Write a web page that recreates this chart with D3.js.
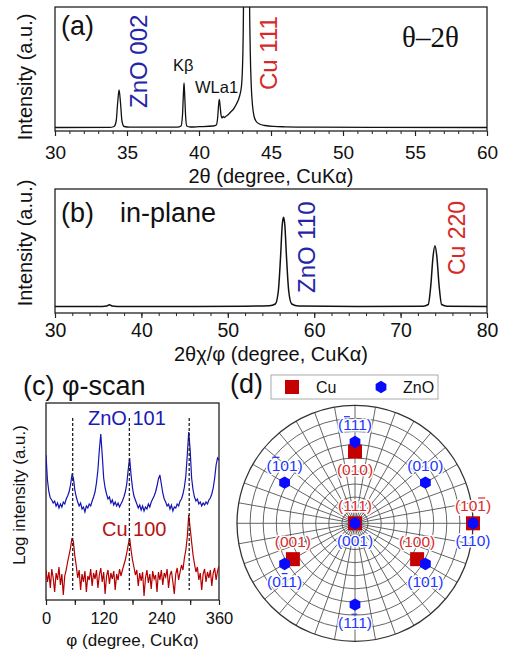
<!DOCTYPE html>
<html>
<head>
<meta charset="utf-8">
<script src="https://cdn.jsdelivr.net/npm/d3@7"></script>
<style>
  body { margin: 0; background: #fff; }
  svg { display: block; }
  text { font-family: "Liberation Sans", Arial, sans-serif; }
</style>
</head>
<body>
<script>
/* ---------------------------- */
/* DATA                         */
/* ---------------------------- */

// (a) theta-2theta scan
const aTheta = [30, 33.8, 34.1, 34.25, 34.35, 34.45, 34.55, 34.65, 34.8, 35.2,
                38.5, 38.75, 38.85, 38.92, 38.96, 39.0, 39.07, 39.15, 39.4, 40,
                41, 41.2, 41.3, 41.36, 41.41, 41.46, 41.53, 41.6, 41.68, 41.75,
                41.85, 42.0, 42.2, 42.4, 42.6, 42.8, 42.95, 43.05, 43.1, 43.3,
                43.5, 43.56, 43.63, 43.72, 43.82, 43.95, 44.2, 44.6, 45.2, 46,
                48, 52, 60];
const aInt = [3.5, 3.6, 4.5, 10, 28, 41, 28, 10, 4.5, 3.8,
              3.9, 5, 15, 38, 48, 38, 15, 5, 4, 4.3,
              5, 6, 14, 26, 31.7, 26, 16, 13, 14.5, 13.5,
              14.5, 16, 19, 22, 27, 34, 45, 80, 150, 3000,
              150, 80, 45, 25, 15, 10, 7, 5.5, 4.6, 4.2,
              3.8, 3.6, 3.5];
const aTicks = [30, 35, 40, 45, 50, 55, 60];

// (b) in-plane scan
const bTheta = [30, 35.5, 36.0, 36.3, 36.6, 37.2, 45, 52, 54.8, 55.5,
                55.85, 56.1, 56.3, 56.45, 56.6, 56.8, 57.05, 57.4, 58.2, 65,
                72.6, 73.2, 73.5, 73.75, 73.98, 74.2, 74.45, 74.75, 75.4, 80];
const bInt = [6.5, 6.5, 6.9, 8.2, 6.9, 6.5, 6.6, 6.8, 7.2, 9,
              22, 55, 88, 95.7, 88, 55, 22, 9, 7, 6.6,
              6.8, 8.5, 28, 56, 67.3, 56, 28, 8.5, 6.8, 6.5];
const bTicks = [30, 40, 50, 60, 70, 80];

// (c) phi scans, sampled every 3 degrees
const phiC = d3.range(0, 361, 3);
const znoScan = [145, 120, 108, 102, 100, 97, 99, 94, 97, 92,
                 96, 93, 98, 96, 101, 104, 108, 115, 125, 122,
                 110, 103, 98, 94, 97, 91, 93, 88, 94, 92,
                 96, 94, 99, 103, 108, 117, 130, 150, 166, 145,
                 122, 112, 106, 101, 103, 97, 100, 95, 98, 94,
                 97, 93, 96, 99, 103, 108, 116, 130, 142, 125,
                 112, 104, 100, 96, 92, 95, 90, 94, 89, 93,
                 91, 96, 93, 98, 101, 104, 108, 114, 121, 125,
                 116, 107, 101, 98, 94, 96, 91, 95, 89, 93,
                 92, 96, 94, 99, 101, 106, 113, 124, 145, 168,
                 150, 122, 110, 103, 99, 101, 96, 98, 94, 97,
                 95, 98, 96, 100, 102, 106, 112, 122, 135, 142,
                 140];
const cuScan = [30, 18, 28, 12, 31, 22, 8, 27, 20, 33,
                15, 26, 5, 24, 30, 38, 45, 52, 62, 58,
                44, 34, 22, 30, 10, 26, 18, 29, 8, 24,
                20, 31, 14, 27, 21, 30, 12, 25, 32, 18,
                28, 6, 24, 30, 16, 27, 21, 29, 10, 26,
                20, 31, 24, 30, 35, 40, 47, 55, 62, 50,
                40, 33, 25, 30, 14, 27, 19, 28, 4, 22,
                30, 17, 26, 11, 29, 21, 25, 8, 28, 20,
                30, 15, 27, 23, 31, 12, 25, 29, 18, 6,
                26, 32, 20, 28, 35, 30, 42, 50, 63, 85,
                72, 58, 45, 36, 28, 33, 20, 27, 10, 26,
                31, 18, 28, 22, 30, 14, 27, 32, 20, 29,
                34];
const cTicks = [0, 60, 120, 180, 240, 300, 360];
const cLabels = [0, 120, 240, 360];
const dashPhi = [55.5, 173.5, 298];

// (d) pole figure: chi (tilt), phi (azimuth)
const cuPoles = ["(111)", "(010)", "(001)", "(100)", "(10-1)"];
const cuChi = [0, 54.7, 54.7, 54.7, 90];
const cuPhi = [0, 90, 210, 330, 0];
const znoPoles = ["(001)", "(-111)", "(010)", "(-101)", "(110)", "(0-11)", "(101)", "(1-11)"];
const znoChi = [0, 62, 62, 62, 90, 62, 62, 62];
const znoPhi = [0, 90, 30, 150, 0, 210, 330, 270];

/* ---------------------------- */
/* CANVAS                       */
/* ---------------------------- */

const W = 505, H = 655;
const ink = "#222";
const navy = "#2424a8", red = "#d42a2a";

const svg = d3.select("body").append("svg")
    .attr("width", W)
    .attr("height", H);

const defs = svg.append("defs");

// frame + bottom axis with major and minor ticks
function framedPanel(id, x, y, major, minor, labels, fs, pad) {
    const [x0, x1] = x.range(), [y0, y1] = y.range();
    defs.append("clipPath").attr("id", id)
        .append("rect").attr("x", x0).attr("y", y1).attr("width", x1 - x0).attr("height", y0 - y1);

    const g = svg.append("g");
    g.append("g")
        .attr("transform", `translate(0,${y0})`)
        .call(d3.axisBottom(x).tickValues(minor).tickSize(3).tickFormat(""))
        .call(a => a.select(".domain").remove())
        .call(a => a.selectAll("line").attr("stroke", ink).attr("stroke-width", 1));
    g.append("g")
        .attr("transform", `translate(0,${y0})`)
        .call(d3.axisBottom(x).tickValues(major).tickSize(5).tickPadding(pad)
              .tickFormat(d => labels.includes(d) ? d : ""))
        .call(a => a.select(".domain").remove())
        .call(a => a.selectAll("line").attr("stroke", ink).attr("stroke-width", 1.2))
        .call(a => a.selectAll("text")
              .attr("fill", "#111")
              .style("font-size", fs + "px")
              .style("font-family", '"Liberation Sans", Arial, sans-serif'));
    g.append("rect")
        .attr("x", x0).attr("y", y1)
        .attr("width", x1 - x0).attr("height", y0 - y1)
        .attr("fill", "none").attr("stroke", ink).attr("stroke-width", 1.3);
    return g;
}

function addText(x, y, str, size, color, opts = {}) {
    const t = svg.append("text")
        .attr("x", x).attr("y", y)
        .attr("fill", color || "#111")
        .style("font-size", size + "px")
        .text(str);
    if (opts.anchor) t.attr("text-anchor", opts.anchor);
    if (opts.rotate) t.attr("transform", `rotate(-90,${x},${y})`);
    if (opts.serif) t.style("font-family", '"Liberation Serif", "Times New Roman", serif');
    return t;
}

/* ---------------------------- */
/* (a) theta-2theta             */
/* ---------------------------- */

const xA = d3.scaleLinear().domain([30, 60]).range([55, 487]);
const yA = d3.scaleLinear().domain([0, 124]).range([131, 7]);

framedPanel("clipA", xA, yA, aTicks, d3.range(30, 61, 1), aTicks, 19, 9.5);

svg.append("path")
    .datum(aTheta.map((t, i) => [t, aInt[i]]))
    .attr("clip-path", "url(#clipA)")
    .attr("fill", "none")
    .attr("stroke", "#111")
    .attr("stroke-width", 1.3)
    .attr("d", d3.line().x(d => xA(d[0])).y(d => yA(d[1])).curve(d3.curveMonotoneX));

addText(61, 35, "(a)", 27);
addText(402, 47, "θ–2θ", 29, "#111", {serif: true});
addText(147, 108, "ZnO 002", 24, navy, {rotate: true});
addText(277, 90, "Cu 111", 24, red, {rotate: true});
addText(173, 71, "Kβ", 16.5);
addText(195, 93, "WLa1", 16.5);
addText(271, 183, "2θ (degree, CuKα)", 20, "#111", {anchor: "middle"});
addText(32, 77, "Intensity (a.u.)", 20, "#111", {anchor: "middle", rotate: true});

/* ---------------------------- */
/* (b) in-plane                 */
/* ---------------------------- */

const xB = d3.scaleLinear().domain([30, 80]).range([55, 487]);
const yB = d3.scaleLinear().domain([0, 124]).range([313, 189]);

framedPanel("clipB", xB, yB, bTicks, d3.range(30, 81, 2), bTicks, 19.5, 5.5);

svg.append("path")
    .datum(bTheta.map((t, i) => [t, bInt[i]]))
    .attr("clip-path", "url(#clipB)")
    .attr("fill", "none")
    .attr("stroke", "#111")
    .attr("stroke-width", 1.5)
    .attr("d", d3.line().x(d => xB(d[0])).y(d => yB(d[1])).curve(d3.curveMonotoneX));

addText(61, 222, "(b)", 27);
addText(120, 222, "in-plane", 27);
addText(315, 293, "ZnO 110", 24, navy, {rotate: true});
addText(465, 275, "Cu 220", 23, red, {rotate: true});
addText(271, 361, "2θχ/φ (degree, CuKα)", 20, "#111", {anchor: "middle"});
addText(32, 243, "Intensity (a.u.)", 20, "#111", {anchor: "middle", rotate: true});

/* ---------------------------- */
/* (c) phi-scan                 */
/* ---------------------------- */

const xC = d3.scaleLinear().domain([0, 360]).range([46, 219]);
const yC = d3.scaleLinear().domain([0, 197]).range([600, 403]);

framedPanel("clipC", xC, yC, cTicks, cTicks, cLabels, 16.5, 7);

const lineC = d3.line().x(d => xC(d[0])).y(d => yC(d[1]));

svg.append("path")
    .datum(phiC.map((p, i) => [p, znoScan[i]]))
    .attr("clip-path", "url(#clipC)")
    .attr("fill", "none")
    .attr("stroke", "#1414b4")
    .attr("stroke-width", 1.2)
    .attr("d", lineC);

svg.append("path")
    .datum(phiC.map((p, i) => [p, cuScan[i]]))
    .attr("clip-path", "url(#clipC)")
    .attr("fill", "none")
    .attr("stroke", "#b40000")
    .attr("stroke-width", 1.2)
    .attr("d", lineC);

svg.selectAll("line.guide")
    .data(dashPhi)
    .enter()
    .append("line")
        .attr("class", "guide")
        .attr("x1", d => xC(d)).attr("x2", d => xC(d))
        .attr("y1", yC(182)).attr("y2", yC(10))
        .attr("stroke", "#222")
        .attr("stroke-width", 1.3)
        .attr("stroke-dasharray", "3,2");

addText(23, 395, "(c) φ-scan", 27);
addText(88, 425, "ZnO 101", 20, "#1a1ab4");
addText(102, 536, "Cu 100", 20, "#b41414");
addText(132.5, 646, "φ (degree, CuKα)", 17, "#111", {anchor: "middle"});
addText(25, 495, "Log intensity (a.u.)", 17, "#111", {anchor: "middle", rotate: true});

/* ---------------------------- */
/* (d) pole figure              */
/* ---------------------------- */

const cx = 355, cy = 523.3, R = 118;
const rScale = d3.scaleLinear().domain([0, 90]).range([0, R]);
const pole = (chi, phi) => [cx + rScale(chi) * Math.cos(phi * Math.PI / 180),
                            cy - rScale(chi) * Math.sin(phi * Math.PI / 180)];

const grid = svg.append("g");
grid.selectAll("line")
    .data(d3.range(0, 360, 10))
    .enter()
    .append("line")
        .attr("x1", cx).attr("y1", cy)
        .attr("x2", d => pole(90, d)[0])
        .attr("y2", d => pole(90, d)[1])
        .attr("stroke", "#555")
        .attr("stroke-width", 0.9);
grid.selectAll("circle")
    .data(d3.range(10, 91, 10))
    .enter()
    .append("circle")
        .attr("cx", cx).attr("cy", cy)
        .attr("r", d => rScale(d))
        .attr("fill", "none")
        .attr("stroke", d => d === 90 ? "#333" : "#555")
        .attr("stroke-width", d => d === 90 ? 1.3 : 0.9);

const hexPath = r => d3.line()(d3.range(6).map(k => {
    const a = (-90 + 60 * k) * Math.PI / 180;
    return [r * Math.cos(a), r * Math.sin(a)];
})) + "Z";

const cuFill = "#c40000", znoFill = "#0a0aff";

svg.selectAll("rect.cu")
    .data(cuPoles)
    .enter()
    .append("rect")
        .attr("class", "cu")
        .attr("x", (d, i) => pole(cuChi[i], cuPhi[i])[0] - 7)
        .attr("y", (d, i) => pole(cuChi[i], cuPhi[i])[1] - 7)
        .attr("width", 14).attr("height", 14)
        .attr("fill", cuFill);

svg.selectAll("path.zno")
    .data(znoPoles)
    .enter()
    .append("path")
        .attr("class", "zno")
        .attr("transform", (d, i) => `translate(${pole(znoChi[i], znoPhi[i])})`)
        .attr("d", hexPath(6.2))
        .attr("fill", znoFill);

// labels: "-" marks the next digit as barred
const labelSide = {
    cu: {"(010)": "below"},
    zno: {"(-111)": "above", "(010)": "above", "(-101)": "above"}
};
function poleLabel(str, chi, phi, color, side) {
    const fs = 15.5;
    let txt = "", bars = [];
    for (const ch of str) {
        if (ch === "-") bars.push(txt.length);
        else txt += ch;
    }
    const [px, py] = pole(chi, phi);
    const y = side === "above" ? py - 12 : py + 23;
    const t = svg.append("text")
        .attr("x", px).attr("y", y)
        .attr("text-anchor", "middle")
        .attr("fill", color)
        .attr("stroke", "#fff")
        .attr("stroke-width", 3)
        .attr("stroke-linejoin", "round")
        .style("paint-order", "stroke")
        .style("font-size", fs + "px")
        .text(txt);
    bars.forEach(i => {
        const s = t.node().getStartPositionOfChar(i);
        const e = t.node().getEndPositionOfChar(i);
        svg.append("line")
            .attr("x1", s.x + 0.8).attr("x2", e.x - 0.8)
            .attr("y1", y - fs * 0.86).attr("y2", y - fs * 0.86)
            .attr("stroke", color).attr("stroke-width", 1.2);
    });
}
cuPoles.forEach((d, i) => poleLabel(d, cuChi[i], cuPhi[i], "#d42c2c", labelSide.cu[d] || "above"));
znoPoles.forEach((d, i) => poleLabel(d, znoChi[i], znoPhi[i], "#2236ff", labelSide.zno[d] || "below"));

// legend
svg.append("rect")
    .attr("x", 271).attr("y", 375).attr("width", 167).attr("height", 24)
    .attr("fill", "#fff").attr("stroke", "#aaa").attr("stroke-width", 1);
svg.append("rect")
    .attr("x", 285).attr("y", 380).attr("width", 14).attr("height", 14)
    .attr("fill", cuFill);
addText(316, 393, "Cu", 16);
svg.append("path")
    .attr("transform", "translate(381,387)")
    .attr("d", hexPath(6.2))
    .attr("fill", znoFill);
addText(403, 393, "ZnO", 16);

addText(230, 393, "(d)", 27);
</script>
</body>
</html>
